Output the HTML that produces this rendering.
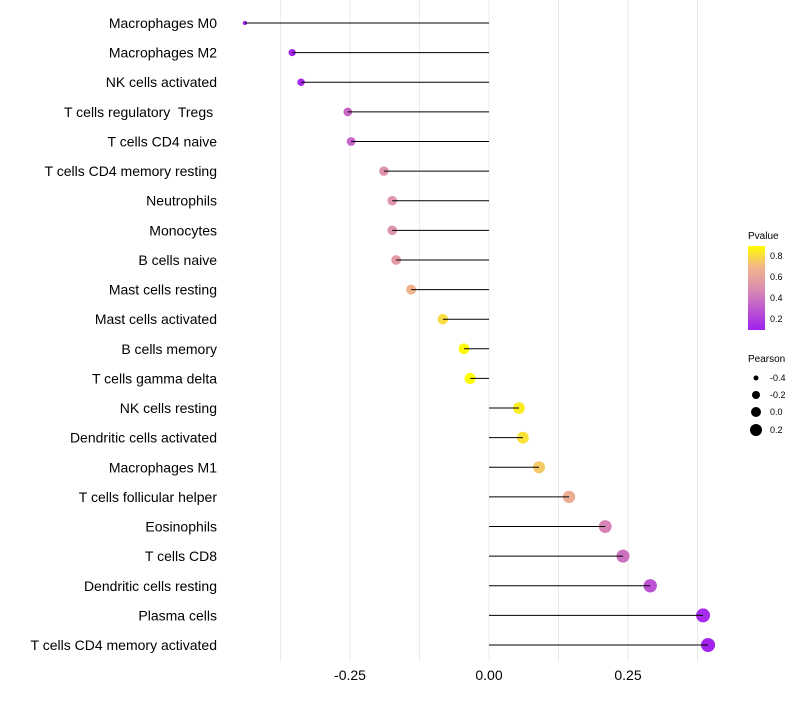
<!DOCTYPE html>
<html><head><meta charset="utf-8"><style>
body{margin:0;background:#fff;font-family:"Liberation Sans",sans-serif}
svg text{font-family:"Liberation Sans",sans-serif;white-space:pre}
</style></head><body>
<svg id="chart" width="800" height="700" xmlns="http://www.w3.org/2000/svg">
<defs><linearGradient id="pg" x1="0" y1="1" x2="0" y2="0">
<stop offset="0" stop-color="#a020f0"/><stop offset="0.5" stop-color="#dc8fb0"/><stop offset="0.75" stop-color="#f2b58a"/><stop offset="1" stop-color="#ffff00"/></linearGradient></defs>
<g id="grid"></g><g id="marks"></g><g id="labels"></g>
<g id="legend">
<text x="748" y="239" font-size="10">Pvalue</text>
<rect x="748" y="246" width="17" height="84" fill="url(#pg)"/>
<text x="770" y="259" font-size="9">0.8</text>
<text x="770" y="280" font-size="9">0.6</text>
<text x="770" y="301" font-size="9">0.4</text>
<text x="770" y="322" font-size="9">0.2</text>
<text x="748" y="362" font-size="10">Pearson</text>
<circle cx="756" cy="378" r="2.5"/><text x="770" y="381" font-size="9">-0.4</text>
<circle cx="756" cy="395" r="4"/><text x="770" y="398" font-size="9">-0.2</text>
<circle cx="756" cy="412" r="5"/><text x="770" y="415" font-size="9">0.0</text>
<circle cx="756" cy="430" r="6"/><text x="770" y="433" font-size="9">0.2</text>
</g>
</svg>
<script>
const categories=["Macrophages M0","Macrophages M2","NK cells activated","T cells regulatory  Tregs ","T cells CD4 naive","T cells CD4 memory resting","Neutrophils","Monocytes","B cells naive","Mast cells resting","Mast cells activated","B cells memory","T cells gamma delta","NK cells resting","Dendritic cells activated","Macrophages M1","T cells follicular helper","Eosinophils","T cells CD8","Dendritic cells resting","Plasma cells","T cells CD4 memory activated"];
const pearson=[-0.439,-0.354,-0.338,-0.254,-0.248,-0.189,-0.174,-0.174,-0.167,-0.140,-0.083,-0.045,-0.034,0.054,0.061,0.090,0.144,0.209,0.241,0.290,0.385,0.394];
const pvalues=[0.05,0.10,0.12,0.35,0.33,0.50,0.52,0.52,0.55,0.68,0.80,0.88,0.90,0.85,0.82,0.75,0.65,0.45,0.38,0.27,0.12,0.10];
const xTicks=[-0.25,0,0.25];
const xTickLabels=["-0.25","0.00","0.25"];
const xMinor=[-0.375,-0.125,0.125,0.375];
const NS="http://www.w3.org/2000/svg";
const x=v=>489+v*556;
const y=i=>23+i*(622/21);
const rad=v=>2+5*Math.sqrt(Math.max(0,(v+0.44)/0.83));
function col(p){const t=Math.max(0,Math.min(1,(p-0.08)/0.82));
const st=[[0,[160,32,240]],[0.5,[220,143,176]],[0.75,[242,181,138]],[1,[255,255,0]]];
for(let k=1;k<st.length;k++){if(t<=st[k][0]){const a=st[k-1],b=st[k],f=(t-a[0])/(b[0]-a[0]);return "rgb("+a[1].map((c,j)=>Math.round(c+(b[1][j]-c)*f)).join(",")+")";}}return "rgb(255,255,0)";}
function mk(tag,at,parent){const e=document.createElementNS(NS,tag);for(const k in at)e.setAttribute(k,at[k]);document.getElementById(parent).appendChild(e);return e;}
xMinor.concat(xTicks).forEach(v=>{const l=mk("line",{x1:x(v),x2:x(v),y1:0,y2:662,stroke:"#ebebeb","stroke-width":1},"grid");

});
xTicks.forEach((v,i)=>{const t=mk("text",{x:x(v),y:680,"font-size":14,"text-anchor":"middle",fill:"#000"},"labels");t.textContent=xTickLabels[i];

});
categories.forEach((c,i)=>{
const d=mk("circle",{cx:x(pearson[i]),cy:y(i),r:rad(pearson[i]),fill:col(pvalues[i])},"marks");


const l=mk("line",{x1:x(0),x2:x(pearson[i]),y1:y(i),y2:y(i),stroke:"#000","stroke-width":1},"marks");


const t=mk("text",{x:217,y:y(i)+5,"font-size":14,"text-anchor":"end",fill:"#000"},"labels");t.textContent=c;


});
</script>
</body></html>
